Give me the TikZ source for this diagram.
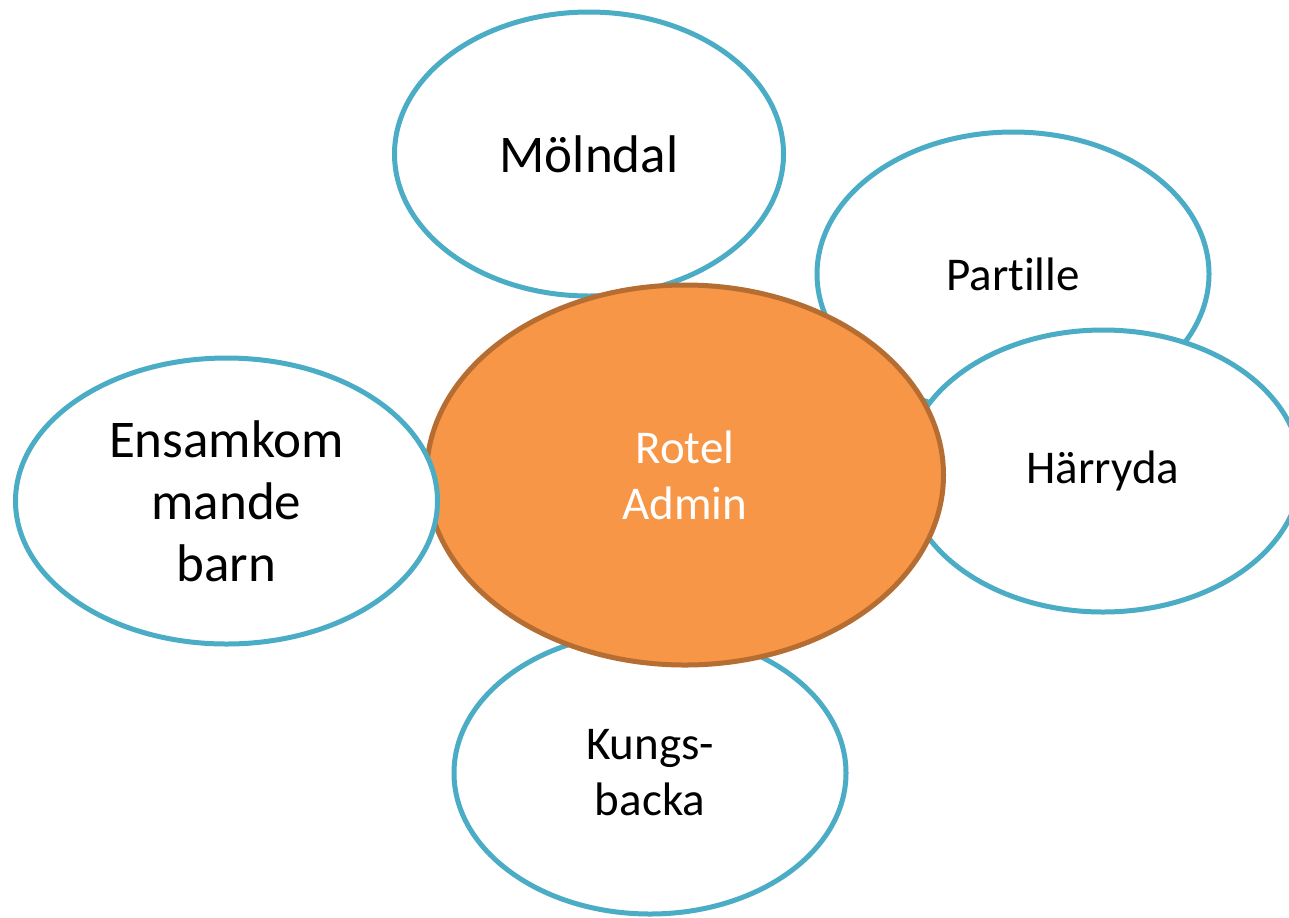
\documentclass[tikz,border=0pt]{standalone}
\usepackage{fontspec}
\setmainfont{Carlito}[Ligatures=CommonOff]
\usetikzlibrary{shapes.geometric}

\definecolor{bubbleBlue}{HTML}{4BACC6}
\definecolor{rotelOrange}{HTML}{F79646}
\definecolor{rotelEdge}{HTML}{B66D31}

\tikzset{
  townBubble/.style={ellipse,draw=bubbleBlue,fill=white,line width=2.5pt,
    inner sep=0pt,align=center,font=\fontsize{23.5}{28}\selectfont},
  bigText/.style={font=\fontsize{26.5}{31}\selectfont},
  rotelBubble/.style={ellipse,draw=rotelEdge,fill=rotelOrange,line width=2.5pt,
    inner sep=0pt,align=center,text=white,font=\fontsize{23.5}{28}\selectfont}
}

\begin{document}
\begin{tikzpicture}[x=0.5pt,y=-0.5pt]
\clip (0,0) rectangle (1289,917);
\fill [white] (0,0) rectangle (1289,917);

% the towns behind the middle
\node [townBubble,bigText,minimum width=194.5pt,minimum height=142pt] (molndal) at (589,154) {Mölndal};
\node [townBubble,minimum width=196pt,minimum height=142pt] (partille) at (1013,274) {Partille};
\node [townBubble,minimum width=198pt,minimum height=141pt] (harryda) at (1103,471) {Härryda};
\node [townBubble,minimum width=196pt,minimum height=141pt] (kungsbacka) at (650,773) {Kungs-\\backa};

% the middle
\node [rotelBubble,minimum width=258.5pt,minimum height=190pt] (rotel) at (685,475) {Rotel\\Admin};

% on top of the middle
\node [townBubble,bigText,minimum width=211pt,minimum height=143pt] (ensam) at (226.5,501) {Ensamkom\\mande\\barn};

\end{tikzpicture}
\end{document}
